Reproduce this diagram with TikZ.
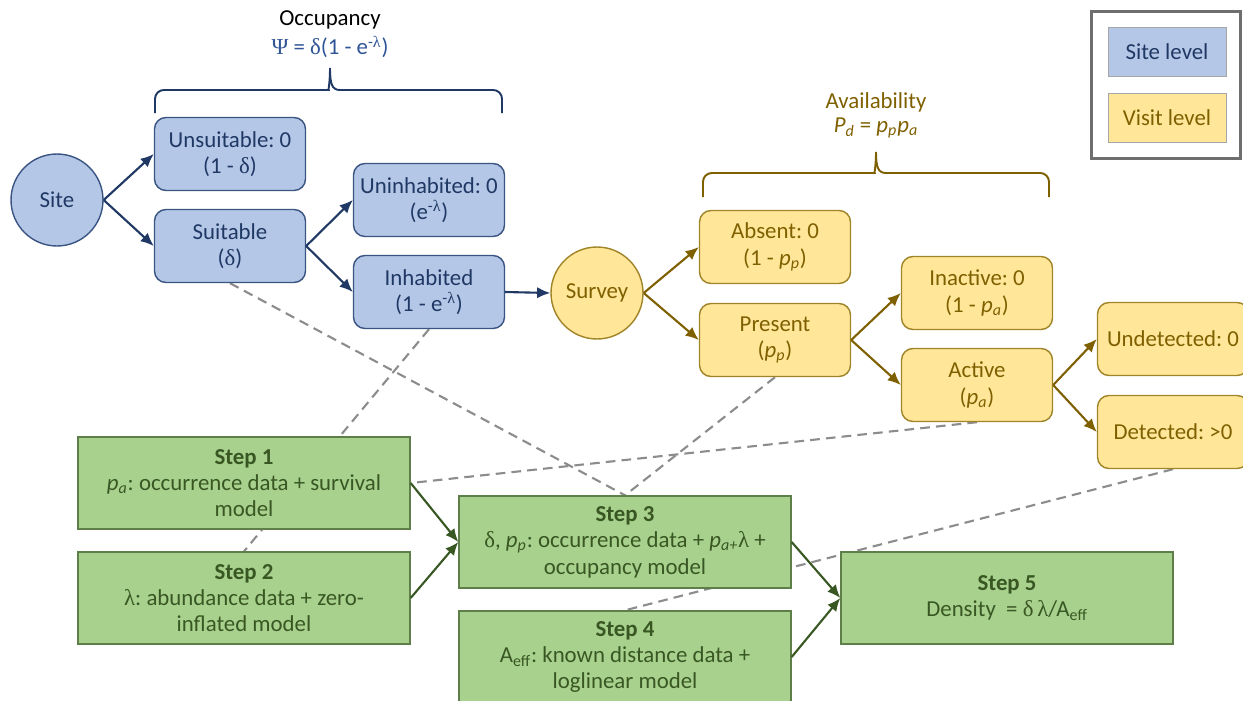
\documentclass[tikz,border=0pt]{standalone}
\usepackage{fontspec}
\setmainfont{Carlito}
\newfontfamily\greekfont{Liberation Serif}
\usetikzlibrary{arrows.meta,backgrounds}
\definecolor{sitefill}{HTML}{B4C7E7}
\definecolor{siteline}{HTML}{3B5583}
\definecolor{sitetext}{HTML}{1F3864}
\definecolor{visitfill}{HTML}{FFE699}
\definecolor{visitline}{HTML}{A08428}
\definecolor{visittext}{HTML}{7F6000}
\definecolor{stepfill}{HTML}{A9D18E}
\definecolor{stepline}{HTML}{5F7F4A}
\definecolor{steptext}{HTML}{385723}
\definecolor{psiblue}{HTML}{2F5597}
\definecolor{linkgray}{HTML}{8C8C8C}
\definecolor{keyline}{HTML}{6E6E6E}
\newcommand{\gk}[1]{{\greekfont #1}}
\frenchspacing

\begin{document}
\begin{tikzpicture}[x=0.02cm,y=-0.02cm,font=\fontsize{13}{15}\selectfont,
  sitebox/.style={draw=siteline,fill=sitefill,text=sitetext,line width=0.8pt,rounded corners=6.5pt,align=center,minimum width=3.02cm,minimum height=1.46cm},
  visitbox/.style={draw=visitline,fill=visitfill,text=visittext,line width=0.8pt,rounded corners=6.5pt,align=center,minimum width=3.02cm,minimum height=1.46cm},
  stepbox/.style={draw=stepline,fill=stepfill,text=steptext,line width=0.8pt,align=center,minimum width=6.64cm,minimum height=1.84cm},
  sitearrow/.style={draw=sitetext,line width=1.2pt,-{Latex[length=7.5pt,width=6.5pt]}},
  visitarrow/.style={draw=visittext,line width=1.2pt,-{Latex[length=7.5pt,width=6.5pt]}},
  steparrow/.style={draw=steptext,line width=1.2pt,-{Latex[length=7.5pt,width=6.5pt]}},
  link/.style={draw=linkgray,line width=1.2pt,dash pattern=on 5.5pt off 3.5pt}]
  \useasboundingbox (0,0) rectangle (1243,700);

  \node (site) at (57,200) [circle,draw=siteline,fill=sitefill,text=sitetext,line width=0.8pt,minimum size=1.84cm] {Site};
  \node (unsuit) at (230,154) [sitebox] {Unsuitable: 0\\(1 - \gk{δ})};
  \node (suit) at (230,246) [sitebox] {Suitable\\(\gk{δ})};
  \node (uninhab) at (429,200) [sitebox] {Uninhabited: 0\\(e\textsuperscript{-\gk{λ}})};
  \node (inhab) at (429,292) [sitebox] {Inhabited\\(1 - e\textsuperscript{-\gk{λ}})};
  \node (survey) at (597,293) [circle,draw=visitline,fill=visitfill,text=visittext,line width=0.8pt,minimum size=1.84cm] {Survey};
  \node (absent) at (775,247) [visitbox] {Absent: 0\\(1 - \textit{p}\textsubscript{\textit{p}})};
  \node (present) at (775,340) [visitbox] {Present\\(\textit{p}\textsubscript{\textit{p}})};
  \node (inactive) at (977,293) [visitbox] {Inactive: 0\\(1 - \textit{p}\textsubscript{\textit{a}})};
  \node (active) at (977,385) [visitbox] {Active\\(\textit{p}\textsubscript{\textit{a}})};
  \node (undet) at (1173,339) [visitbox] {Undetected: 0};
  \node (det) at (1173,432) [visitbox] {Detected: >0};

  \node (occ) at (330,20) {Occupancy};
  \node (psi) at (330,47) [text=psiblue] {\gk{Ψ} = \gk{δ}(1 - e\textsuperscript{-\gk{λ}})};
  \node (avail) at (876,102) [text=visittext] {Availability};
  \node (pd) at (876,128) [text=visittext] {\textit{P}\textsubscript{\textit{d}} = \textit{p}\textsubscript{\textit{p}}\textit{p}\textsubscript{\textit{a}}};
  \draw[sitetext,line width=1.1pt] (155,113) [rounded corners=5pt] -- (155,90) -- (320,90) [sharp corners] .. controls (328,90) and (330,84) .. (330,68) .. controls (330,84) and (332,90) .. (340,90) [rounded corners=5pt] -- (502,90) -- (502,113);
  \draw[visittext,line width=1.1pt] (703,197) [rounded corners=5pt] -- (703,173) -- (866,173) [sharp corners] .. controls (874,173) and (876,167) .. (876,152) .. controls (876,167) and (878,173) .. (886,173) [rounded corners=5pt] -- (1049,173) -- (1049,197);

  \node (step1) at (244,483) [stepbox] {\textbf{Step 1}\\\textit{p}\textsubscript{\textit{a}}: occurrence data + survival\\model};
  \node (step2) at (244,598) [stepbox] {\textbf{Step 2}\\\gk{λ}: abundance data + zero-\\inflated model};
  \node (step3) at (625,542) [stepbox] {\textbf{Step 3}\\\gk{δ}, \textit{p}\textsubscript{\textit{p}}: occurrence data + \textit{p}\textsubscript{\textit{a+}}\gk{λ} +\\occupancy model};
  \node (step4) at (625,657) [stepbox] {\textbf{Step 4}\\A\textsubscript{eff}: known distance data +\\loglinear model};
  \node (step5) at (1007,598) [stepbox] {\textbf{Step 5}\\Density\ \ = \gk{δ}\,\gk{λ}/A\textsubscript{eff}};

  \begin{scope}[on background layer]
    \draw[link] (suit.south) -- (step3.north);
    \draw[link] (present.south) -- (step3.north);
    \draw[link] (inhab.south) -- (step2.north);
    \draw[link] (active.south) -- (step1.east);
    \draw[link] (det.south) -- (step4.north);
  \end{scope}

  \draw[sitearrow] (site.east) -- (unsuit.west);
  \draw[sitearrow] (site.east) -- (suit.west);
  \draw[sitearrow] (suit.east) -- (uninhab.west);
  \draw[sitearrow] (suit.east) -- (inhab.west);
  \draw[sitearrow] (inhab.east) -- (survey.west);
  \draw[visitarrow] (survey.east) -- (absent.west);
  \draw[visitarrow] (survey.east) -- (present.west);
  \draw[visitarrow] (present.east) -- (inactive.west);
  \draw[visitarrow] (present.east) -- (active.west);
  \draw[visitarrow] (active.east) -- (undet.west);
  \draw[visitarrow] (active.east) -- (det.west);
  \draw[steparrow] (step1.east) -- (step3.west);
  \draw[steparrow] (step2.east) -- (step3.west);
  \draw[steparrow] (step3.east) -- (step5.west);
  \draw[steparrow] (step4.east) -- (step5.west);

  \node (key) at (1166,85) [draw=keyline,line width=1.8pt,minimum width=2.98cm,minimum height=2.94cm] {};
  \node (sitekey) at (1167,52) [draw=black!35,fill=sitefill,text=sitetext,minimum width=2.36cm,minimum height=0.98cm] {Site level};
  \node (visitkey) at (1167,118) [draw=black!35,fill=visitfill,text=visittext,minimum width=2.36cm,minimum height=0.98cm] {Visit level};
\end{tikzpicture}
\end{document}
